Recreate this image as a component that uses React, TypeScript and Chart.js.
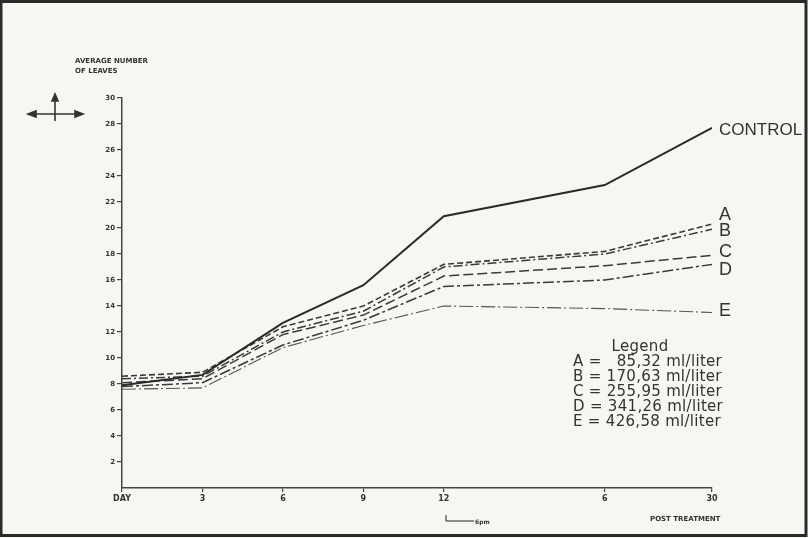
import React, { useEffect, useRef } from "react";
import { Chart, registerables } from "chart.js";

Chart.register(...registerables);

// ---- data ----
const days = [0, 3, 6, 9, 12, 18, 22];
const xTickLabels = ["DAY", "3", "6", "9", "12", "6", "30"];
const yTicks = [2, 4, 6, 8, 10, 12, 14, 16, 18, 20, 22, 24, 26, 28, 30];

const control = [7.9, 8.7, 12.7, 15.6, 20.9, 23.3, 27.7];
const seriesA = [8.6, 8.9, 12.4, 14.0, 17.2, 18.2, 20.3];
const seriesB = [8.4, 8.6, 12.0, 13.6, 17.0, 18.0, 19.9];
const seriesC = [8.1, 8.4, 11.8, 13.3, 16.3, 17.1, 17.9];
const seriesD = [7.8, 8.1, 11.0, 12.9, 15.5, 16.0, 17.2];
const seriesE = [7.6, 7.7, 10.8, 12.5, 14.0, 13.8, 13.5];

const seriesNames = ["CONTROL", "A", "B", "C", "D", "E"];
const legendKeys = ["A", "B", "C", "D", "E"];
const legendDoses = ["  85,32", "170,63", "255,95", "341,26", "426,58"];
const yTitle = ["AVERAGE NUMBER", "OF LEAVES"];
const xTitle = "POST TREATMENT";

const endLabelOffsets = [2, -9, 2, -3, 6, -1];

const endLabelPlugin = {
  id: "endLabels",
  afterDatasetsDraw(chart: any) {
    const ctx = chart.ctx;
    ctx.save();
    ctx.fillStyle = "#333";
    ctx.textBaseline = "middle";
    ctx.textAlign = "left";
    chart.data.datasets.forEach((ds: any, i: number) => {
      const meta = chart.getDatasetMeta(i);
      const pt = meta.data[meta.data.length - 1];
      if (!pt) return;
      ctx.font = i === 0 ? "17px 'Liberation Sans', Arial" : "18px 'Liberation Sans', Arial";
      ctx.fillText(ds.label, pt.x + 7, pt.y + endLabelOffsets[i]);
    });
    ctx.restore();
  },
};

export default function App() {
  const ref = useRef<HTMLCanvasElement>(null);

  useEffect(() => {
    if (!ref.current) return;
    const all = [control, seriesA, seriesB, seriesC, seriesD, seriesE];
    const dashes = [[], [6, 3], [9, 3, 2, 3], [10, 4], [11, 3, 3, 3], [14, 3, 2, 3]];
    const widths = [2, 1.6, 1.5, 1.5, 1.5, 1.1];
    const colors = ["#2a2a2a", "#3a3a3a", "#3a3a3a", "#3a3a3a", "#3a3a3a", "#555"];
    const chart = new Chart(ref.current, {
      type: "line",
      data: {
        datasets: all.map((vals, i) => ({
          label: seriesNames[i],
          data: days.map((d, j) => ({ x: d, y: vals[j] })),
          borderColor: colors[i],
          borderWidth: widths[i],
          borderDash: dashes[i],
          pointRadius: 0,
          tension: 0,
          fill: false,
        })),
      },
      options: {
        responsive: false,
        animation: false,
        layout: { padding: { left: 92, right: 96, top: 98, bottom: 10 } },
        plugins: { legend: { display: false }, tooltip: { enabled: false } },
        scales: {
          x: {
            type: "linear",
            min: 0,
            max: 22,
            afterBuildTicks: (s: any) => {
              s.ticks = days.map((v) => ({ value: v }));
            },
            afterFit: (s: any) => {
              s.height = 40;
            },
            border: { display: true, color: "#444", width: 1.5 },
            grid: { display: true, drawOnChartArea: false, tickLength: 4, color: "#444", lineWidth: 1.2 },
            ticks: {
              autoSkip: false,
              maxRotation: 0,
              padding: 2,
              color: "#333",
              font: { family: "DejaVu Sans", size: 8, weight: "bold" },
              callback: (v: any) => {
                const idx = days.indexOf(Number(v));
                return idx >= 0 ? xTickLabels[idx] : "";
              },
            },
          },
          y: {
            min: 0,
            max: 30,
            afterBuildTicks: (s: any) => {
              s.ticks = yTicks.map((v) => ({ value: v }));
            },
            afterFit: (s: any) => {
              s.width = 30;
            },
            border: { display: true, color: "#444", width: 1.5 },
            grid: { display: true, drawOnChartArea: false, tickLength: 5, color: "#444", lineWidth: 1.2 },
            ticks: {
              padding: 2,
              color: "#333",
              font: { family: "DejaVu Sans", size: 7, weight: "bold" },
            },
          },
        },
      },
      plugins: [endLabelPlugin],
    } as any);
    return () => chart.destroy();
  }, []);

  const small: React.CSSProperties = {
    position: "absolute",
    fontFamily: "'DejaVu Sans', sans-serif",
    fontWeight: "bold",
    fontSize: 7,
    color: "#333",
    whiteSpace: "pre",
    lineHeight: "10px",
  };
  const legendFont: React.CSSProperties = {
    fontFamily: "'DejaVu Sans', sans-serif",
    fontSize: 15,
    color: "#333",
    lineHeight: "15px",
    letterSpacing: 0.3,
    whiteSpace: "pre",
  };

  return (
    <div style={{ position: "fixed", left: 0, top: 0, width: 808, height: 538, background: "#f6f6f3", overflow: "hidden" }}>
      <canvas ref={ref} width={808} height={538} style={{ position: "absolute", left: 0, top: 0, width: 808, height: 538 }} />
      <div style={{ ...small, left: 75, top: 56 }}>
        {yTitle[0]}
        <br />
        {yTitle[1]}
      </div>
      <svg width={808} height={538} style={{ position: "absolute", left: 0, top: 0 }}>
        <g stroke="#333" strokeWidth={1.6} fill="#333">
          <line x1={30} y1={114} x2={81} y2={114} />
          <line x1={55} y1={97} x2={55} y2={121} />
          <polygon points="28,114 36,111 36,117" />
          <polygon points="83,114 75,111 75,117" />
          <polygon points="55,94 52,101 58,101" />
        </g>
        <g stroke="#444" strokeWidth={1.2}>
          <line x1={446} y1={515} x2={446} y2={521} />
          <line x1={446} y1={521} x2={474} y2={521} />
        </g>
        <rect x={1} y={1.5} width={805} height={534} fill="none" stroke="#2a2a2a" strokeWidth={3} />
      </svg>
      <div style={{ ...small, left: 475, top: 517, fontSize: 6 }}>6pm</div>
      <div style={{ ...small, left: 650, top: 514 }}>{xTitle}</div>
      <div style={{ position: "absolute", left: 573, top: 339 }}>
        <div style={{ ...legendFont, textAlign: "center", width: 134 }}>Legend</div>
        {legendKeys.map((k, i) => (
          <div key={k} style={legendFont}>
            {k + " = " + legendDoses[i] + " ml/liter"}
          </div>
        ))}
      </div>
    </div>
  );
}
